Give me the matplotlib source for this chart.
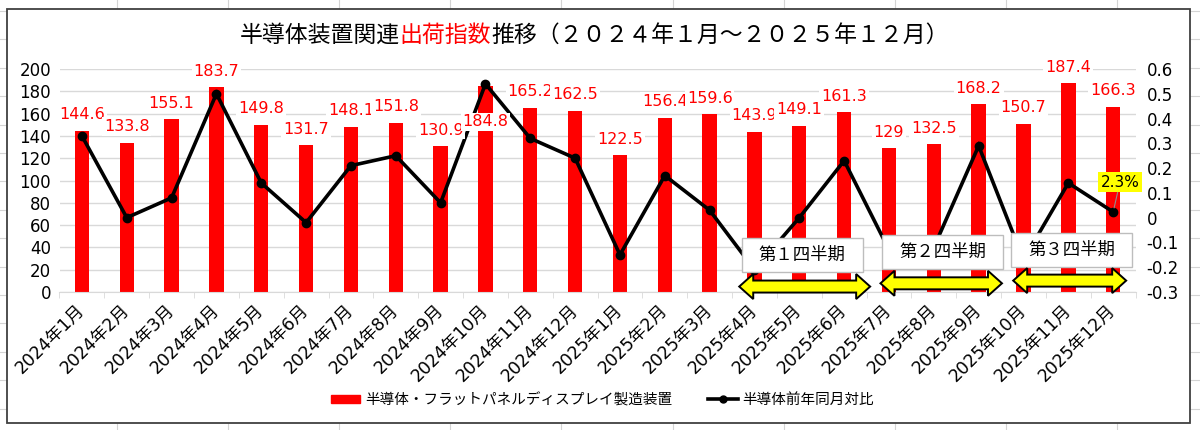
import matplotlib
matplotlib.use('Agg')
import matplotlib.pyplot as plt
import matplotlib.patches as mpatches
import matplotlib.transforms as mtransforms
from matplotlib.lines import Line2D
import numpy as np

# ---------------- data ----------------
months = ['2024年1月', '2024年2月', '2024年3月', '2024年4月', '2024年5月', '2024年6月',
          '2024年7月', '2024年8月', '2024年9月', '2024年10月', '2024年11月', '2024年12月',
          '2025年1月', '2025年2月', '2025年3月', '2025年4月', '2025年5月', '2025年6月',
          '2025年7月', '2025年8月', '2025年9月', '2025年10月', '2025年11月', '2025年12月']
shipment_index = [144.6, 133.8, 155.1, 183.7, 149.8, 131.7, 148.1, 151.8, 130.9, 184.8, 165.2, 162.5,
                  122.5, 156.4, 159.6, 143.9, 149.1, 161.3, 129.0, 132.5, 168.2, 150.7, 187.4, 166.3]
yoy_ratio = [0.33, 0.00, 0.08, 0.50, 0.14, -0.02, 0.21, 0.25, 0.06, 0.54, 0.32, 0.24,
             -0.15, 0.17, 0.03, -0.21, 0.00, 0.23, -0.13, -0.12, 0.29, -0.17, 0.14, 0.023]
left_ticks = list(range(0, 201, 20))
right_ticks = [-0.3, -0.2, -0.1, 0.0, 0.1, 0.2, 0.3, 0.4, 0.5, 0.6]
quarter_labels = ['第１四半期', '第２四半期', '第３四半期']
bar_name = '半導体・フラットパネルディスプレイ製造装置'
line_name = '半導体前年同月対比'
title_parts = [('半導体装置関連', 'black'), ('出荷指数', '#FF0000'),
               ('推移（２０２４年１月～２０２５年１２月）', 'black')]
last_label = '2.3%'

# ---------------- style ----------------
RED = '#FF0000'
GRID = '#d9d9d9'
plt.rcParams['font.family'] = ['DejaVu Sans', 'Noto Sans CJK JP']
CJK = ['Noto Sans CJK JP', 'DejaVu Sans']

W, H = 1200, 430
fig = plt.figure(figsize=(W / 100, H / 100), dpi=100)
fig.patch.set_facecolor('white')
pix = mtransforms.IdentityTransform()

# spreadsheet background grid (outside chart frame)
for xv in np.arange(117, W, 111.1):
    fig.add_artist(Line2D([xv, xv], [0, H], color='#d4d4d4', lw=0.8, transform=pix, zorder=-3))
for yv in np.arange(295 - 28.4 * 11, H, 28.4):
    fig.add_artist(Line2D([0, W], [H - yv, H - yv], color='#d4d4d4', lw=0.8, transform=pix, zorder=-3))
# chart frame
fig.add_artist(mpatches.Rectangle((6.7, H - 422.7), 1190 - 6.7, 422.7 - 9.3, facecolor='white',
                                  edgecolor='#404040', lw=1.3, transform=pix, zorder=-2))

# ---------------- axes ----------------
px_left, px_right, px_top, px_bottom = 59.5, 1135.6, 69, 292
ax = fig.add_axes([px_left / W, (H - px_bottom) / H, (px_right - px_left) / W, (px_bottom - px_top) / H])
ax.set_facecolor('none')
x = np.arange(len(months))
ax.bar(x, shipment_index, width=0.32, color=RED, zorder=2)
ax.set_xlim(-0.5, len(months) - 0.5)
ax.set_ylim(0, 200)
ax.set_yticks(left_ticks)
ax.set_yticklabels([str(v) for v in left_ticks], fontsize=12)
ax.tick_params(axis='y', length=0, pad=6)
ax.grid(axis='y', color=GRID, lw=1)
ax.set_axisbelow(True)
for s in ['left', 'right', 'top']:
    ax.spines[s].set_visible(False)
ax.spines['bottom'].set_color(GRID)
ax.set_xticks(x)
ax.set_xticklabels(months, rotation=45, ha='right', va='center', rotation_mode='anchor', fontsize=12.5)
ax.set_xticks(np.arange(-0.5, len(months), 1), minor=True)
ax.tick_params(axis='x', which='major', length=0, pad=11)
ax.tick_params(axis='x', which='minor', length=4, color=GRID)

ax2 = ax.twinx()
ax2.set_ylim(-0.3, 0.6)
ax2.set_yticks(right_ticks)
ax2.set_yticklabels([('%g' % round(v, 1)) for v in right_ticks], fontsize=12)
ax2.tick_params(axis='y', length=0, pad=8)
for s in ['left', 'right', 'top', 'bottom']:
    ax2.spines[s].set_visible(False)
ax2.plot(x, yoy_ratio, color='black', lw=2.6, marker='o', ms=6, zorder=3,
         solid_joinstyle='miter')

# bar value labels (white filled, drawn above the line)
moved = {9: -36}
for i, v in enumerate(shipment_index):
    off_px = moved.get(i, 16)
    ax2.annotate('%g' % v, xy=(x[i], v), xycoords=ax.transData,
                 xytext=(0, off_px * 0.72), textcoords='offset points',
                 ha='center', va='center', color=RED, fontsize=11.5, zorder=5 + i * 0.01,
                 bbox=dict(boxstyle='square,pad=0.12', fc='white', ec='none'))

# 2.3% callout
ax2.annotate(last_label, xy=(x[-1], yoy_ratio[-1]), xytext=(23.15, 0.143), textcoords='data',
             ha='center', va='center', fontsize=11, color='black', zorder=6,
             bbox=dict(boxstyle='square,pad=0.15', fc='#FFFF00', ec='none'),
             arrowprops=dict(arrowstyle='-', color='#909090', lw=0.8, shrinkA=0, shrinkB=3))

# ---------------- quarter boxes and arrows ----------------
def to_px(xc, yv):
    return ax2.transData.transform((xc, yv))

box_specs = [(16.06, -0.151), (19.2, -0.138), (22.07, -0.129)]
for (bx, by), lab in zip(box_specs, quarter_labels):
    cx, cy = to_px(bx, by)
    bw, bh = 121, 34
    fig.add_artist(mpatches.Rectangle((cx - bw / 2, cy - bh / 2), bw, bh, facecolor='white',
                                      edgecolor='#bdbdbd', lw=1, transform=pix, zorder=6))
    fig.text(cx / W, cy / H, lab, ha='center', va='center', fontsize=12.5, family=CJK, zorder=7)

arrow_specs = [(14.66, 17.58, -0.278), (17.81, 20.52, -0.265), (20.77, 23.29, -0.254)]
for x0, x1, yv in arrow_specs:
    p0 = to_px(x0, yv)
    p1 = to_px(x1, yv)
    ya = p0[1]
    xa, xb = p0[0], p1[0]
    hl, hh, sh = 14, 12.5, 6
    pts = [(xa, ya), (xa + hl, ya + hh), (xa + hl, ya + sh), (xb - hl, ya + sh), (xb - hl, ya + hh),
           (xb, ya), (xb - hl, ya - hh), (xb - hl, ya - sh), (xa + hl, ya - sh), (xa + hl, ya - hh)]
    fig.add_artist(mpatches.Polygon(pts, closed=True, facecolor='#FFFF00', edgecolor='black',
                                    lw=1.4, transform=pix, zorder=6, joinstyle='miter'))

# ---------------- legend ----------------
handles = [mpatches.Patch(color=RED, label=bar_name),
           Line2D([0], [0], color='black', lw=2.6, marker='o', ms=5, label=line_name)]
fig.legend(handles=handles, loc='center', bbox_to_anchor=(0.502, 1 - 400 / H), ncol=2,
           frameon=False, prop={'family': CJK, 'size': 10.5}, handlelength=2.0,
           handleheight=0.55, columnspacing=2.5, handletextpad=0.3)

# ---------------- title (multi-coloured) ----------------
renderer = fig.canvas.get_renderer()
tobjs = []
total = 0
for s, c in title_parts:
    t = fig.text(0, 1 - 35 / H, s, color=c, fontsize=16.5, family=CJK, ha='left', va='center')
    w = t.get_window_extent(renderer).width
    tobjs.append((t, w))
    total += w
xs = 594 - total / 2
for t, w in tobjs:
    t.set_x(xs / W)
    xs += w

fig.savefig('out.png', dpi=100)
